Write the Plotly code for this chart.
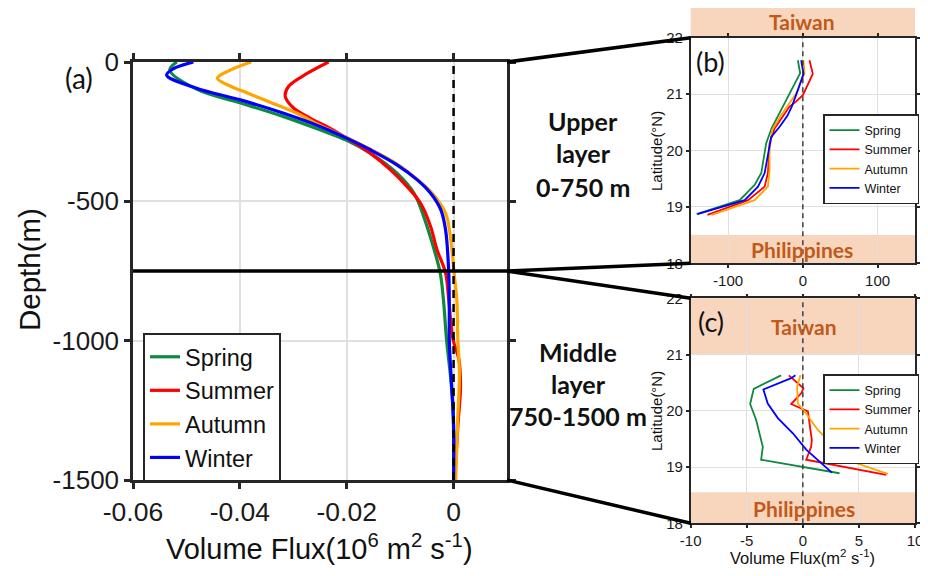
import plotly.graph_objects as go

W, H = 928, 576
OFF = 8  # browser default page margin

season_names = ["Spring", "Summer", "Autumn", "Winter"]
season_colors = ["#0e8a3e", "#ff0000", "#ffa500", "#0000ff"]

# ---------- Panel (a): depth profiles (10^6 m^2 s^-1) ----------
spring_depth = [0, -29, -100, -146, -196, -244, -282, -327, -399, -471, -554, -650, -757, -853, -1000, -1123, -1243, -1500]
spring_flux = [-0.0518, -0.0531, -0.0478, -0.0400, -0.0318, -0.0249, -0.0199, -0.0156, -0.0106, -0.0074, -0.0056, -0.0040, -0.0025, -0.0019, -0.0013, -0.0006, -0.0001, 0.0]

summer_depth = [0, -41, -88, -124, -166, -202, -238, -274, -327, -387, -447, -506, -590, -674, -757, -853, -996, -1068, -1164, -1307, -1500]
summer_flux = [-0.0234, -0.0274, -0.0309, -0.0315, -0.0299, -0.0268, -0.0231, -0.0199, -0.0156, -0.0118, -0.0087, -0.0062, -0.0043, -0.0031, -0.0015, -0.0009, -0.0001, 0.0010, 0.0013, 0.0008, 0.0002]

autumn_depth = [0, -29, -58, -88, -112, -148, -184, -229, -272, -313, -366, -421, -471, -542, -626, -757, -853, -996, -1120, -1271, -1500]
autumn_flux = [-0.0379, -0.0418, -0.0442, -0.0416, -0.0385, -0.0339, -0.0293, -0.0249, -0.0199, -0.0156, -0.0106, -0.0068, -0.0040, -0.0015, -0.0006, 0.0001, 0.0006, 0.0008, 0.0011, 0.0008, 0.0004]

winter_depth = [0, -25, -47, -94, -136, -184, -232, -274, -315, -369, -423, -471, -530, -602, -757, -900, -1000, -1150, -1300, -1500]
winter_flux = [-0.0487, -0.0525, -0.0537, -0.0481, -0.0399, -0.0318, -0.0249, -0.0199, -0.0156, -0.0106, -0.0068, -0.0043, -0.0024, -0.0015, -0.0009, -0.0008, -0.0008, -0.0004, 0.0, 0.0]

# ---------- Panel (b): upper layer, latitude profiles (m^2 s^-1) ----------
b_spring_lat = [21.6, 21.37, 20.39, 20.13, 19.6, 19.39, 19.12, 18.87]
b_spring_flux = [-6.7, -3.6, -42, -49, -55.6, -64.5, -84.5, -142]
b_summer_lat = [21.6, 21.36, 20.98, 20.87, 20.78, 20.39, 20.13, 19.6, 19.36, 19.12, 18.86]
b_summer_flux = [8.9, 13.3, 0, -8.9, -17.8, -37.8, -44.5, -46.7, -51.1, -73.3, -127.6]
b_autumn_lat = [21.6, 21.37, 21.01, 20.63, 20.36, 20.01, 19.65, 19.36, 19.12, 18.86]
b_autumn_flux = [0.9, 2.2, -8.9, -28.9, -41.3, -44.5, -44.5, -46.7, -64.5, -122]
b_winter_lat = [21.6, 21.36, 21.07, 20.78, 20.61, 20.42, 20.24, 19.95, 19.6, 19.36, 19.12, 18.87]
b_winter_flux = [-2.2, 0.9, -6.7, -14.7, -20.9, -31.1, -42.3, -46.7, -51.1, -60, -77.8, -141]

# ---------- Panel (c): middle layer, latitude profiles (m^2 s^-1) ----------
c_spring_lat = [20.63, 20.39, 20.12, 19.84, 19.36, 19.13, 18.89]
c_spring_flux = [-1.94, -4.38, -4.7, -4.17, -3.57, -3.72, 3.27]
c_summer_lat = [20.63, 20.4, 20.31, 20.12, 19.99, 19.72, 19.48, 19.36, 19.13, 18.86]
c_summer_flux = [-1.25, 0.06, -0.15, -1.04, 0.45, 0.6, 0.8, 0.74, 0.3, 7.44]
c_autumn_lat = [20.63, 20.43, 20.13, 19.99, 19.66, 19.42, 19.13, 18.88]
c_autumn_flux = [-0.21, -0.51, -0.45, 0.15, 1.34, 2.53, 3.87, 7.59]
c_winter_lat = [20.63, 20.58, 20.38, 20.13, 19.87, 19.6, 19.31, 18.9]
c_winter_flux = [-0.66, -1.04, -3.52, -3.13, -2.23, -0.89, 0.3, 2.59]

# axis ranges / tick labels
a_xrange = [-0.06, 0.01]
a_xticks = [-0.06, -0.04, -0.02, 0]
a_xticktext = ["-0.06", "-0.04", "-0.02", "0"]
a_yrange = [-1500, 0]
a_yticks = [0, -500, -1000, -1500]
a_yticktext = ["0", "-500", "-1000", "-1500"]
layer_boundary = -750

b_xrange = [-150, 150]
b_xticks = [-100, 0, 100]
b_xticktext = ["-100", "0", "100"]
c_xrange = [-10, 10]
c_xticks = [-10, -5, 0, 5, 10]
c_xticktext = ["-10", "-5", "0", "5", "10"]
lat_range = [18, 22]
lat_ticks = [18, 19, 20, 21, 22]
lat_ticktext = ["18", "19", "20", "21", "22"]

b_taiwan = [22, 22.53]
b_phil = [18, 18.5]
c_taiwan = [21, 22]
c_phil = [18, 18.55]

# ---------- layout geometry (page pixels) ----------
A_L, A_R, A_T, A_B = 133, 507, 62, 480
B_L, B_R, B_T, B_B = 690.7, 915, 37.7, 263.3
C_L, C_R, C_T, C_B = 690.7, 915, 298.3, 523.3

# figure placed at (OFF, OFF) on the page; keep the page free of scrollbars
FW, FH = W - OFF, H - 2 * OFF


def px(x):
    return (x - OFF) / FW


def py(y):
    return 1 - (y - OFF) / FH


def a_ypix(depth):
    return A_T + (a_yrange[1] - depth) / (a_yrange[1] - a_yrange[0]) * (A_B - A_T)


ARIAL = "Liberation Sans, Arial, sans-serif"
CALIBRI = "Lato, Open Sans, sans-serif"
BOX_FILL = "#f8d5bd"
BOX_TEXT = "#c0591a"

fig = go.Figure()

a_data = [(spring_depth, spring_flux), (summer_depth, summer_flux),
          (autumn_depth, autumn_flux), (winter_depth, winter_flux)]
for name, col, (d, f) in zip(season_names, season_colors, a_data):
    fig.add_trace(go.Scatter(x=f, y=d, mode="lines", name=name,
                             line=dict(color=col, width=3.2, shape="spline", smoothing=1.0),
                             xaxis="x", yaxis="y", legend="legend"))
fig.add_trace(go.Scatter(x=[0, 0], y=a_yrange, mode="lines", showlegend=False,
                         line=dict(color="black", width=2.5, dash="8px,6px"),
                         xaxis="x", yaxis="y"))

b_data = [(b_spring_lat, b_spring_flux), (b_summer_lat, b_summer_flux),
          (b_autumn_lat, b_autumn_flux), (b_winter_lat, b_winter_flux)]
for name, col, (la, f) in zip(season_names, season_colors, b_data):
    fig.add_trace(go.Scatter(x=f, y=la, mode="lines", name=name,
                             line=dict(color=col, width=1.8),
                             xaxis="x2", yaxis="y2", legend="legend2"))
fig.add_trace(go.Scatter(x=[0, 0], y=lat_range, mode="lines", showlegend=False,
                         line=dict(color="#333333", width=1.4, dash="5px,4px"),
                         xaxis="x2", yaxis="y2"))

c_data = [(c_spring_lat, c_spring_flux), (c_summer_lat, c_summer_flux),
          (c_autumn_lat, c_autumn_flux), (c_winter_lat, c_winter_flux)]
for name, col, (la, f) in zip(season_names, season_colors, c_data):
    fig.add_trace(go.Scatter(x=f, y=la, mode="lines", name=name,
                             line=dict(color=col, width=1.8),
                             xaxis="x3", yaxis="y3", legend="legend3"))
fig.add_trace(go.Scatter(x=[0, 0], y=lat_range, mode="lines", showlegend=False,
                         line=dict(color="#333333", width=1.4, dash="5px,4px"),
                         xaxis="x3", yaxis="y3"))

axis_common = dict(showline=True, linecolor="#262626", mirror="allticks", ticks="outside",
                   showgrid=True, gridcolor="#e0e0e0", zeroline=False, automargin=False,
                   tickcolor="#262626", tickmode="array")

fig.update_layout(
    width=FW, height=FH, margin=dict(l=0, r=0, t=0, b=0),
    paper_bgcolor="white", plot_bgcolor="white",
    xaxis=dict(domain=[px(A_L), px(A_R)], range=a_xrange, tickvals=a_xticks, ticktext=a_xticktext,
               anchor="y", linewidth=2.5, tickwidth=2.5, ticklen=6, gridwidth=1.8,
               tickfont=dict(family=ARIAL, size=26.5, color="#1a1a1a"), **axis_common),
    yaxis=dict(domain=[py(A_B), py(A_T)], range=a_yrange, tickvals=a_yticks, ticktext=a_yticktext,
               anchor="x", linewidth=2.5, tickwidth=2.5, ticklen=6, gridwidth=1.8,
               tickfont=dict(family=ARIAL, size=26, color="#1a1a1a"), **axis_common),
    xaxis2=dict(domain=[px(B_L), px(B_R)], range=b_xrange, tickvals=b_xticks, ticktext=b_xticktext,
                anchor="y2", linewidth=1.5, tickwidth=1.5, ticklen=3, gridwidth=1.2,
                tickfont=dict(family=ARIAL, size=15, color="#1a1a1a"), **axis_common),
    yaxis2=dict(domain=[py(B_B), py(B_T)], range=lat_range, tickvals=lat_ticks, ticktext=lat_ticktext,
                anchor="x2", linewidth=1.5, tickwidth=1.5, ticklen=3, gridwidth=1.2,
                tickfont=dict(family=ARIAL, size=15, color="#1a1a1a"), **axis_common),
    xaxis3=dict(domain=[px(C_L), px(C_R)], range=c_xrange, tickvals=c_xticks, ticktext=c_xticktext,
                anchor="y3", linewidth=1.5, tickwidth=1.5, ticklen=3, gridwidth=1.2,
                tickfont=dict(family=ARIAL, size=15, color="#1a1a1a"), **axis_common),
    yaxis3=dict(domain=[py(C_B), py(C_T)], range=lat_range, tickvals=lat_ticks, ticktext=lat_ticktext,
                anchor="x3", linewidth=1.5, tickwidth=1.5, ticklen=3, gridwidth=1.2,
                tickfont=dict(family=ARIAL, size=15, color="#1a1a1a"), **axis_common),
    legend=dict(x=px(143), y=py(333), xanchor="left", yanchor="top", itemwidth=30,
                bgcolor="white", bordercolor="#262626", borderwidth=2,
                font=dict(family=ARIAL, size=23.5, color="#111111"), tracegroupgap=0),
    legend2=dict(x=px(823), y=py(114), xanchor="left", yanchor="top", itemwidth=30,
                 bgcolor="white", bordercolor="#262626", borderwidth=1.5,
                 font=dict(family=ARIAL, size=12.5, color="#111111"), tracegroupgap=0),
    legend3=dict(x=px(823), y=py(374), xanchor="left", yanchor="top", itemwidth=30,
                 bgcolor="white", bordercolor="#262626", borderwidth=1.5,
                 font=dict(family=ARIAL, size=12.5, color="#111111"), tracegroupgap=0),
    showlegend=True,
)

shapes = []
# boundary between upper and middle layer in panel (a)
shapes.append(dict(type="line", xref="x", yref="y", x0=a_xrange[0], x1=a_xrange[1],
                   y0=layer_boundary, y1=layer_boundary, line=dict(color="black", width=3.5)))
# country boxes
span = lat_range[1] - lat_range[0]
for xr, yr, (lo, hi) in [("x2 domain", "y2 domain", b_taiwan), ("x2 domain", "y2 domain", b_phil),
                         ("x3 domain", "y3 domain", c_taiwan), ("x3 domain", "y3 domain", c_phil)]:
    shapes.append(dict(type="rect", xref=xr, yref=yr, x0=0, x1=1,
                       y0=(lo - lat_range[0]) / span, y1=(hi - lat_range[0]) / span,
                       fillcolor=BOX_FILL, line=dict(width=0), layer="below"))
# zoom connectors
yb = a_ypix(layer_boundary)
for (x0, y0, x1, y1) in [(A_R, A_T, B_L, B_T), (A_R, yb, B_L, B_B),
                         (A_R, yb, C_L, C_T), (A_R, A_B, C_L, C_B)]:
    shapes.append(dict(type="line", xref="paper", yref="paper", x0=px(x0), y0=py(y0),
                       x1=px(x1), y1=py(y1), line=dict(color="black", width=3.5)))
fig.update_layout(shapes=shapes)

ann = []


def add_text(text, x, y, size, family=CALIBRI, color="#111111", angle=0, bold=False):
    ann.append(dict(text=("<b>%s</b>" % text) if bold else text, x=px(x), y=py(y),
                    xref="paper", yref="paper", showarrow=False, xanchor="center", yanchor="middle",
                    textangle=angle, font=dict(family=family, size=size, color=color)))


add_text("(a)", 79, 78, 28)
add_text("(b)", 710, 62, 27)
add_text("(c)", 711, 321, 27)
add_text("Depth(m)", 29, 270, 29.5, family=ARIAL, angle=-90)
add_text("Volume Flux(10<sup>6</sup> m<sup>2</sup> s<sup>-1</sup>)", 319, 547, 29, family=ARIAL)
add_text("Latitude(°N)", 656, 151, 15, family=ARIAL, angle=-90)
add_text("Latitude(°N)", 656, 411, 15, family=ARIAL, angle=-90)
add_text("Volume Flux(m<sup>2</sup> s<sup>-1</sup>)", 802, 557, 16.5, family=ARIAL)
for t, y in [("Upper", 121), ("layer", 153), ("0-750 m", 187)]:
    add_text(t, 583, y, 25, bold=True)
for t, y in [("Middle", 352), ("layer", 384), ("750-1500 m", 416)]:
    add_text(t, 578, y, 25, bold=True)
for t, x, y in [("Taiwan", 802, 21), ("Philippines", 802, 249),
                ("Taiwan", 804, 326), ("Philippines", 804, 508)]:
    add_text(t, x, y, 21, color=BOX_TEXT, bold=True)
fig.update_layout(annotations=ann)

fig.write_html("out.html")
